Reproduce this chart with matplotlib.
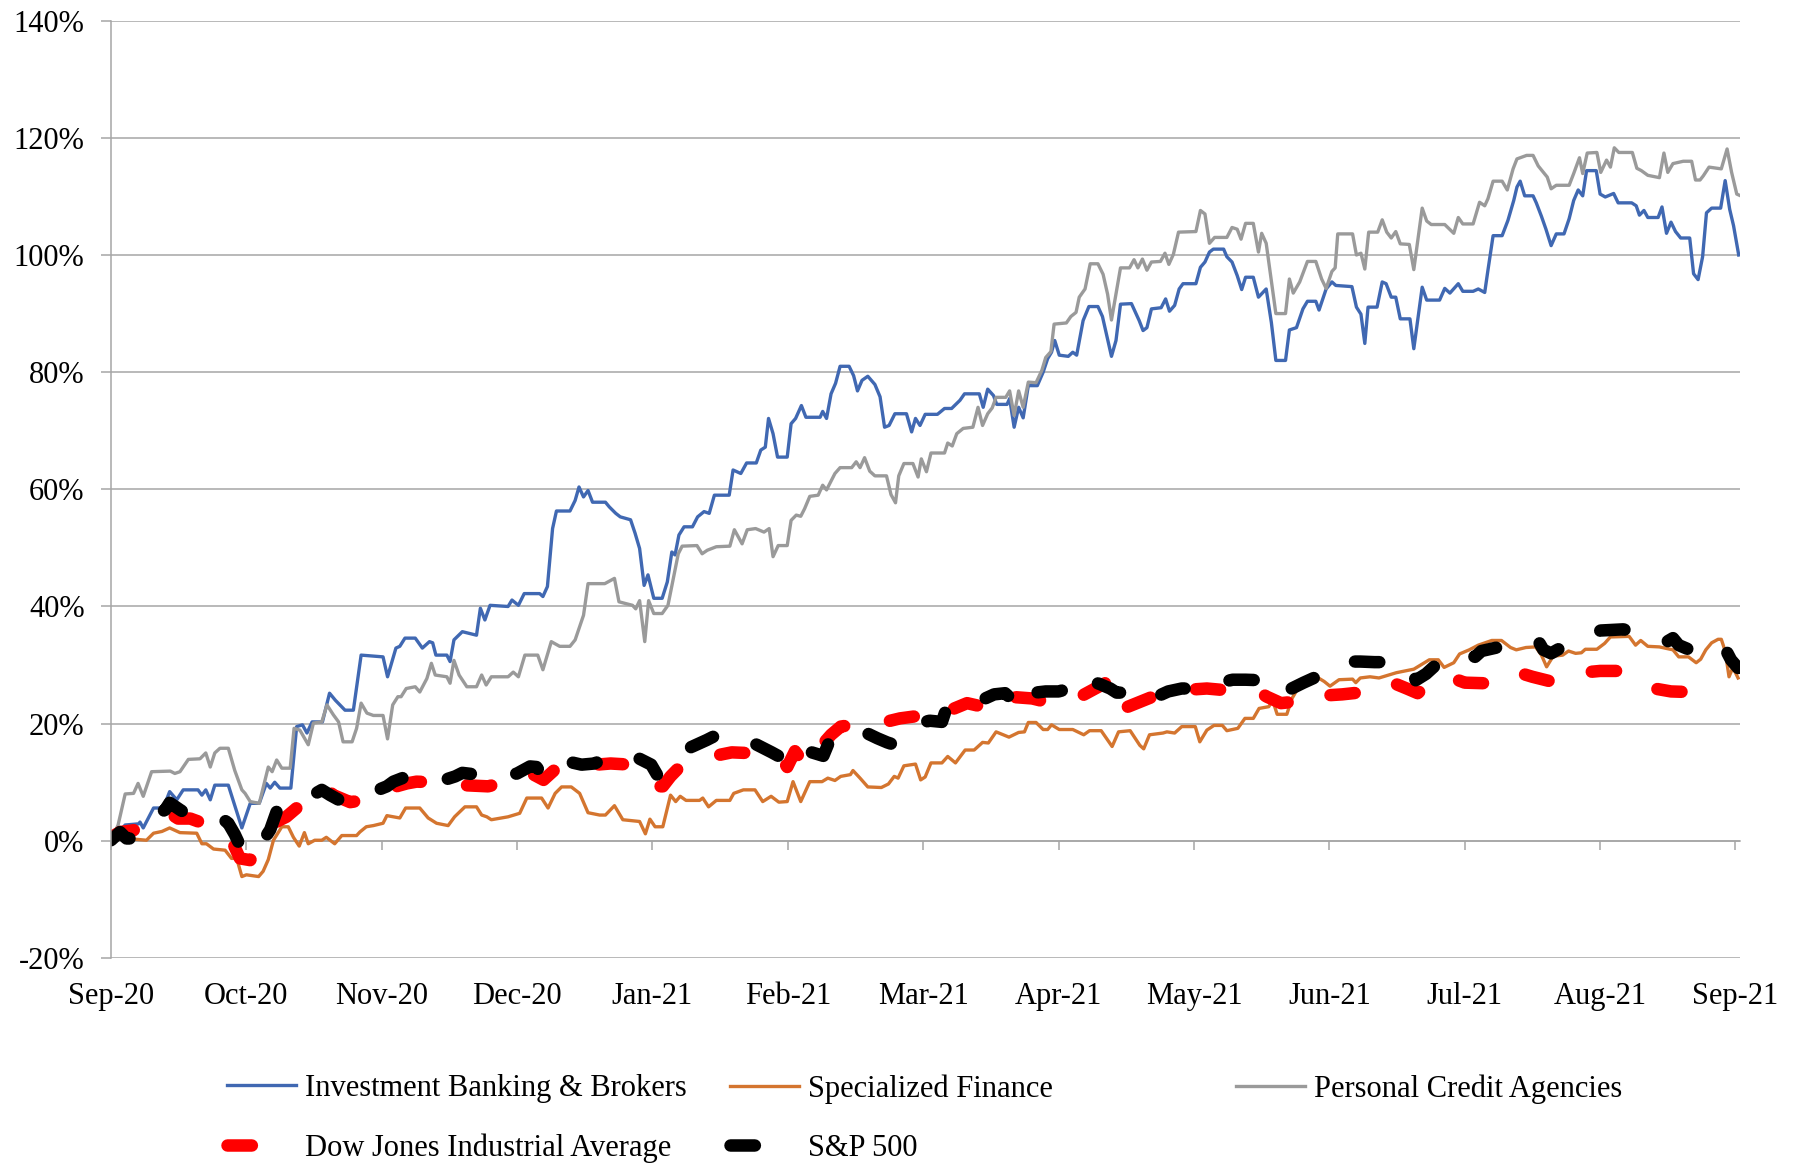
import numpy as np
import matplotlib
matplotlib.use('Agg')
from matplotlib import pyplot as plt

# trading-day index (0 = start of Sep-20), cumulative return in %
ib_day = [0, 2.2, 4.3, 4.5, 5.0, 6.6, 8.1, 9.1, 10.2, 11.2, 13.5, 14.1, 14.7, 15.4, 16.1, 18.2,
          20.3, 21.6, 23.0, 24.1, 24.7, 25.4, 26.2, 27.9, 28.8, 29.7, 30.4, 31.2, 32.8, 33.9,
          34.8, 36.3, 37.6, 38.8, 42.2, 42.9, 44.2, 44.8, 45.6, 47.2, 48.3, 49.4, 49.9, 50.4,
          52.1, 52.6, 53.2, 54.5, 56.7, 57.3, 58.0, 58.8, 61.6, 62.2, 63.2, 64.1, 66.5, 67.0,
          67.7, 68.5, 69.1, 71.2, 72.0, 72.6, 73.3, 74.0, 74.7, 76.7, 77.3, 78.3, 79.0, 80.6,
          81.3, 82.0, 82.7, 83.3, 84.2, 85.5, 86.3, 87.0, 87.5, 88.1, 88.9, 90.2, 91.0, 92.0,
          92.8, 93.6, 95.9, 96.5, 97.7, 98.6, 100.1, 100.8, 101.5, 102.0, 102.7, 103.4, 104.9,
          105.5, 106.2, 107.1, 107.8, 110.0, 110.4, 111.0, 111.7, 112.4, 113.1, 114.5, 115.2,
          115.8, 116.5, 117.4, 118.5, 119.3, 120.0, 120.7, 121.6, 123.4, 124.2, 124.8, 125.5,
          126.3, 128.2, 129.3, 130.4, 131.7, 132.4, 134.7, 135.3, 136.0, 136.9, 137.4, 139.0,
          139.4, 140.1, 140.8, 141.5, 142.3, 143.7, 144.6, 145.3, 145.9, 146.4, 147.1, 148.5,
          149.2, 149.8, 150.8, 151.7, 153.1, 153.8, 155.2, 155.9, 156.6, 158.3, 159.5, 160.1,
          160.7, 161.4, 162.9, 163.6, 164.2, 165.0, 165.7, 166.3, 168.3, 169.0, 169.7, 170.4,
          171.0, 172.6, 173.1, 173.9, 174.7, 175.4, 176.0, 177.2, 178.0, 179.2, 180.0, 180.7,
          182.2, 182.8, 183.9, 184.9, 185.6, 186.9, 187.4, 188.5, 189.4, 190.0, 192.5, 193.2,
          193.9, 194.5, 195.0, 196.4, 197.2, 197.8, 198.6, 199.3, 200.0, 201.5, 202.1, 203.4,
          204.1, 206.1, 206.9, 207.7, 209.0, 209.7, 211.3, 212.1, 213.1, 213.6, 214.4, 215.8,
          216.7, 217.6, 218.1, 218.6, 219.3, 220.6, 221.1, 221.9, 222.6, 223.4, 224.2, 225.4,
          226.2, 226.9, 227.6, 228.3, 228.9, 230.4, 231.0, 231.8, 233.1, 233.8, 235.9, 236.6,
          237.1, 237.8, 238.4, 240.0, 240.6, 241.3, 242.0, 242.7, 243.5, 244.9, 245.5, 246.2,
          246.9, 247.5, 248.3, 249.7, 250.4, 251.1, 251.7, 252.5]
ib_val = [0.0, 2.7, 2.9, 3.2, 2.2, 5.6, 5.6, 8.4, 7.0, 8.7, 8.7, 7.8, 8.7, 7.0, 9.5, 9.5,
          2.2, 6.4, 6.4, 9.8, 9.0, 10.0, 9.0, 9.0, 19.5, 19.8, 18.4, 20.3, 20.3, 25.2,
          24.0, 22.3, 22.3, 31.7, 31.4, 28.0, 32.9, 33.2, 34.6, 34.6, 32.9, 34.0, 33.8, 31.7,
          31.7, 30.6, 34.3, 35.7, 35.1, 39.7, 37.7, 40.2, 40.0, 41.1, 40.2, 42.2, 42.2, 41.7,
          43.4, 53.3, 56.3, 56.3, 58.1, 60.4, 58.7, 59.8, 57.8, 57.8, 57.0, 55.9, 55.3, 54.8,
          52.5, 49.9, 43.6, 45.4, 41.4, 41.4, 44.2, 49.3, 48.8, 52.2, 53.6, 53.6, 55.3, 56.2,
          55.9, 59.0, 59.0, 63.3, 62.7, 64.5, 64.5, 66.7, 67.2, 72.1, 69.5, 65.5, 65.5,
          71.2, 72.1, 74.3, 72.3, 72.3, 73.3, 72.1, 76.3, 78.1, 81.0, 81.0, 79.4,
          76.8, 78.6, 79.3, 77.9, 75.8, 70.6, 70.9, 72.9, 72.9, 69.8, 72.1, 70.9,
          72.8, 72.8, 73.8, 73.8, 75.2, 76.3, 76.3, 74.0, 77.1, 76.0, 74.5, 74.5,
          75.5, 70.6, 74.0, 72.2, 77.7, 77.7, 80.0, 82.3, 83.4, 85.4, 82.9, 82.7,
          83.4, 82.9, 88.8, 91.2, 91.2, 89.5, 82.7, 85.4, 91.6, 91.7, 88.8, 87.1,
          87.6, 90.8, 91.0, 92.5, 90.4, 91.4, 94.2, 95.1, 95.1, 97.9, 98.8, 100.5,
          101.0, 101.0, 99.7, 98.8, 96.5, 94.1, 96.2, 96.2, 92.8, 94.2, 88.5, 82.0,
          82.0, 87.2, 87.6, 90.8, 92.1, 92.1, 90.6, 94.2, 95.4, 94.8, 94.6, 91.1,
          89.9, 84.9, 91.1, 91.1, 95.4, 95.1, 92.8, 92.8, 89.1, 89.1, 84.0, 94.5,
          92.3, 92.3, 94.3, 93.5, 95.1, 93.8, 93.8, 94.2, 93.6, 97.4, 103.3, 103.3,
          105.9, 109.3, 111.6, 112.6, 110.1, 110.1, 108.9, 106.6, 104.4, 101.6, 103.6, 103.6,
          106.2, 109.3, 111.1, 110.1, 114.4, 114.4, 110.4, 109.9, 110.5, 108.9, 108.9, 108.4,
          106.8, 107.6, 106.4, 106.4, 108.2, 103.7, 105.6, 104.0, 102.9, 102.9, 96.8, 95.8,
          99.7, 107.2, 108.0, 108.0, 112.7, 107.8, 105.0, 100.0]

sf_day = [0, 0.6, 1.4, 2.4, 3.5, 5.5, 6.6, 7.9, 9.1, 10.7, 13.3, 14.1, 14.8, 15.9, 17.7, 18.7,
          19.5, 20.3, 21.0, 22.9, 23.6, 24.4, 25.2, 26.5, 27.5, 28.3, 29.2, 30.0, 30.6, 31.6,
          32.7, 33.4, 34.7, 35.8, 38.1, 38.6, 39.6, 40.7, 42.2, 42.8, 44.8, 45.7, 47.9, 49.2,
          50.5, 52.3, 53.3, 54.9, 56.7, 57.5, 58.3, 59.0, 61.6, 63.4, 64.5, 66.8, 67.8, 68.9,
          69.9, 71.4, 72.7, 74.0, 75.8, 76.7, 78.1, 79.4, 82.0, 82.9, 83.6, 84.4, 85.6, 86.8,
          87.6, 88.3, 89.2, 91.3, 91.8, 92.7, 93.9, 96.0, 96.6, 98.1, 99.9, 101.1, 102.4,
          103.6, 104.9, 105.8, 107.0, 108.4, 110.3, 111.2, 112.3, 113.2, 114.7, 115.1, 116.2,
          117.4, 119.5, 120.6, 121.5, 122.1, 123.0, 124.8, 125.6, 126.3, 127.2, 128.9, 129.8,
          131.0, 132.5, 133.9, 135.2, 136.1, 137.3, 139.3, 140.8, 141.7, 142.3, 143.5, 144.6,
          145.3, 145.9, 147.1, 149.2, 150.9, 151.8, 153.6, 155.3, 156.3, 158.1, 159.6, 160.2,
          161.1, 163.2, 163.8, 165.0, 166.1, 168.2, 168.9, 170.0, 171.1, 172.4, 173.1, 174.8,
          175.9, 177.2, 178.1, 179.6, 180.2, 180.9, 182.4, 183.2, 184.6, 185.5, 187.3, 188.2,
          189.1, 190.5, 192.6, 193.1, 193.8, 195.3, 196.7, 199.4, 202.1, 204.5, 205.9, 206.8,
          208.3, 209.2, 210.7, 212.1, 214.2, 215.7, 217.1, 218.0, 219.5, 221.0, 221.9, 222.7,
          223.7, 225.2, 226.1, 227.2, 228.1, 228.7, 230.5, 231.7, 232.6, 235.5, 236.5, 237.3,
          238.4, 240.2, 242.3, 243.2, 244.7, 245.9, 246.6, 247.4, 248.3, 249.3, 249.8, 250.4,
          251.0, 251.6, 252.4]
sf_val = [0.0, 0.6, 0.3, 0.6, 0.3, 0.1, 1.3, 1.6, 2.2, 1.4, 1.3, -0.5, -0.5, -1.4, -1.6, -3.0,
          -3.0, -6.1, -5.8, -6.1, -5.2, -3.2, 0.1, 2.4, 2.4, 0.6, -0.9, 1.4, -0.5, 0.1,
          0.1, 0.6, -0.5, 0.9, 0.9, 1.5, 2.4, 2.6, 3.0, 4.3, 3.9, 5.6, 5.6, 3.9,
          3.0, 2.6, 4.1, 5.8, 5.8, 4.4, 4.1, 3.6, 4.1, 4.7, 7.3, 7.3, 5.6, 8.1,
          9.2, 9.2, 8.1, 4.8, 4.4, 4.4, 6.0, 3.6, 3.3, 1.2, 3.7, 2.4, 2.4, 7.8,
          6.7, 7.6, 6.9, 6.9, 7.3, 5.8, 6.9, 6.9, 8.1, 8.7, 8.7, 6.7, 7.6,
          6.6, 6.7, 10.1, 6.7, 10.1, 10.1, 10.7, 10.3, 11.0, 11.3, 12.0, 10.7,
          9.2, 9.1, 9.7, 11.0, 10.7, 12.8, 13.1, 10.4, 10.9, 13.3, 13.3, 14.4,
          13.3, 15.5, 15.5, 16.8, 16.7, 18.6, 17.7, 18.5, 18.6, 20.2, 20.2, 19.0,
          19.0, 19.8, 19.0, 19.0, 18.1, 18.8, 18.8, 16.1, 18.6, 18.8, 16.3, 15.7,
          18.1, 18.4, 18.6, 18.4, 19.5, 19.5, 16.9, 18.9, 19.7, 19.7, 18.8, 19.2,
          20.9, 20.9, 22.6, 22.9, 24.0, 21.6, 21.6, 24.3, 26.9, 27.8, 27.8, 27.2,
          26.4, 27.5, 27.6, 27.0, 27.8, 28.0, 27.8, 28.7, 29.3, 30.9, 30.9, 29.6,
          30.4, 31.9, 32.6, 33.4, 34.2, 34.2, 33.0, 32.6, 33.0, 33.1, 31.7, 29.7,
          31.5, 31.7, 32.4, 32.0, 32.1, 32.7, 32.7, 33.7, 34.8, 34.9, 33.4, 34.2,
          33.2, 33.1, 32.6, 31.4, 31.4, 30.4, 31.0, 32.6, 33.8, 34.4, 34.4, 32.4,
          28.0, 29.6, 27.8]

pca_day = [0, 1.1, 2.2, 3.5, 4.2, 5.0, 6.3, 9.2, 9.9, 10.7, 12.0, 13.8, 14.7, 15.4, 16.1, 16.9,
           18.2, 19.2, 20.3, 20.8, 21.6, 23.0, 23.9, 24.4, 25.0, 25.7, 26.5, 27.8, 28.4, 29.3,
           30.6, 31.4, 32.7, 33.5, 34.5, 35.3, 36.0, 37.4, 38.1, 38.8, 39.7, 40.7, 42.2, 42.9,
           43.7, 44.5, 45.0, 45.8, 47.2, 47.9, 49.0, 49.7, 50.3, 52.1, 52.6, 53.2, 54.0, 55.2,
           56.7, 57.5, 58.2, 59.0, 61.6, 62.4, 63.2, 64.2, 66.2, 67.0, 68.3, 69.6, 71.2, 72.0,
           73.3, 74.0, 76.6, 78.1, 78.8, 80.9, 81.4, 82.0, 82.8, 83.4, 84.2, 85.5, 86.4, 87.3,
           88.0, 88.6, 90.9, 91.7, 92.5, 93.9, 96.0, 96.7, 97.9, 98.7, 100.0, 101.3, 102.1,
           102.7, 103.5, 104.9, 105.5, 106.3, 107.0, 107.6, 108.4, 109.7, 110.4, 111.0, 112.3,
           113.1, 114.9, 115.6, 116.2, 116.9, 117.7, 118.5, 120.3, 121.0, 121.7, 122.2, 123.0,
           124.4, 125.2, 125.7, 126.5, 127.2, 129.3, 129.8, 130.5, 131.2, 132.2, 133.7, 134.5,
           135.2, 136.0, 136.7, 137.3, 138.8, 139.4, 140.1, 140.8, 141.5, 142.3, 143.5, 144.4,
           145.0, 145.8, 146.3, 148.2, 148.9, 149.7, 150.2, 151.1, 151.9, 153.1, 153.9, 154.6,
           155.2, 155.9, 156.6, 158.0, 158.7, 159.3, 160.0, 160.7, 161.4, 162.8, 163.5, 164.1,
           164.8, 165.6, 168.3, 169.0, 169.7, 170.4, 171.2, 173.1, 173.9, 174.7, 175.3, 176.0,
           177.2, 178.0, 178.5, 179.2, 180.7, 182.2, 182.8, 183.4, 184.4, 185.6, 186.9, 187.8,
           188.5, 189.4, 189.9, 190.3, 192.6, 193.2, 193.9, 194.5, 195.1, 196.5, 197.2, 197.9,
           198.6, 199.3, 200.0, 201.4, 202.1, 203.4, 204.1, 204.8, 206.9, 208.3, 209.0, 209.7,
           211.3, 212.3, 213.1, 213.6, 214.4, 215.8, 216.6, 217.5, 218.1, 219.6, 220.6, 221.4,
           222.2, 222.8, 223.4, 224.2, 226.2, 226.9, 227.8, 228.3, 229.0, 230.5, 231.1, 232.0,
           232.6, 233.2, 233.9, 236.0, 236.7, 237.4, 238.4, 240.2, 240.9, 241.5, 242.3, 243.9,
           245.2, 245.8, 246.5, 247.0, 247.9, 249.8, 250.7, 251.4, 252.2, 252.8]
pca_val = [0.0, 2.7, 8.0, 8.1, 9.8, 7.6, 11.8, 11.9, 11.5, 11.8, 13.9, 14.0, 15.0, 12.6, 15.0, 15.8,
           15.8, 12.0, 8.7, 8.1, 6.7, 6.4, 10.4, 12.6, 11.8, 13.8, 12.4, 12.4, 19.2, 18.9,
           16.4, 20.1, 20.3, 23.2, 21.5, 20.3, 16.9, 16.9, 19.2, 23.5, 21.8, 21.4, 21.4, 17.4,
           23.2, 24.6, 24.6, 26.0, 26.3, 25.4, 27.7, 30.3, 28.3, 28.0, 26.9, 30.8, 28.3, 26.3,
           26.3, 28.3, 26.6, 28.0, 28.0, 28.8, 28.0, 31.7, 31.7, 29.2, 34.0, 33.2, 33.2, 34.3,
           38.5, 43.9, 43.9, 44.8, 40.8, 40.2, 39.6, 41.0, 34.0, 41.0, 38.8, 38.8, 40.2, 45.1,
           49.0, 50.3, 50.4, 49.0, 49.6, 50.2, 50.3, 53.1, 50.7, 53.1, 53.3, 52.7, 53.3,
           48.5, 50.4, 50.4, 54.7, 55.6, 55.4, 56.7, 58.8, 59.0, 60.7, 59.9, 62.7,
           63.7, 63.7, 64.7, 63.7, 65.4, 63.1, 62.3, 62.3, 59.1, 57.7, 62.3, 64.4,
           64.4, 62.1, 65.2, 63.0, 66.2, 66.2, 67.9, 67.4, 69.5, 70.4, 70.6, 74.0,
           70.9, 72.9, 73.9, 75.7, 75.7, 76.8, 72.6, 76.8, 74.0, 78.3, 78.2, 80.3,
           82.5, 83.5, 88.2, 88.4, 89.5, 90.2, 92.8, 94.2, 98.5, 98.5, 96.7, 93.3,
           88.9, 93.3, 97.8, 97.8, 99.2, 97.8, 99.3, 97.4, 98.8, 98.9, 100.3, 98.4,
           100.1, 103.9, 104.0, 107.6, 107.0, 102.0, 103.0, 103.0, 104.7, 104.4, 102.7, 105.4,
           105.4, 100.5, 103.7, 102.0, 90.0, 90.0, 95.9, 93.5, 95.4, 98.9, 98.9, 95.9,
           94.3, 97.2, 97.8, 103.6, 103.6, 100.0, 100.3, 97.6, 103.9, 103.9, 106.0, 103.9,
           102.9, 104.0, 101.9, 101.8, 97.5, 108.0, 105.8, 105.2, 105.2, 103.7, 106.4, 105.3,
           105.3, 109.0, 108.4, 109.6, 112.6, 112.6, 111.1, 114.7, 116.4, 117.0, 117.0, 115.2,
           114.1, 113.3, 111.3, 111.9, 111.9, 113.9, 116.6, 113.9, 117.4, 117.5, 114.1, 116.2,
           115.0, 118.3, 117.5, 117.5, 114.8, 114.4, 113.6, 113.2, 117.4, 114.1, 115.6, 116.0,
           116.0, 112.8, 112.8, 113.5, 115.0, 114.7, 118.1, 114.1, 110.4, 110.1]

dj_day = [0, 1.4, 3.5, 4.5, 6.5, 9.1, 10.4, 12.3, 13.8, 16.0, 18.5, 20.0, 21.6, 23.5, 25.2, 27.2,
          28.8, 31.0, 33.0, 34.5, 37.1, 39.5, 42.2, 43.3, 45.9, 47.4, 50.0, 52.8, 54.6, 58.5,
          61.0, 64.7, 67.1, 69.1, 72.0, 75.3, 77.5, 80.6, 82.5, 84.1, 85.6, 86.8, 88.3, 91.0,
          94.5, 96.3, 100.7, 102.5, 104.0, 104.9, 106.1, 107.9, 110.0, 111.7, 113.2, 116.7,
          119.0, 122.4, 125.1, 126.9, 129.5, 132.8, 135.2, 136.0, 137.8, 140.5, 142.9, 145.9,
          148.6, 151.0, 154.2, 155.4, 158.0, 161.6, 164.3, 167.3, 170.0, 172.0, 174.0, 177.8,
          179.3, 181.5, 184.0, 185.2, 186.4, 188.2, 191.0, 194.4, 195.8, 198.8, 201.0, 202.7,
          204.2, 205.3, 207.3, 210.0, 213.0, 214.5, 217.5, 220.5, 223.4, 224.9, 227.0, 228.1,
          231.0, 234.6, 236.1, 237.8, 239.4, 242.0, 244.7, 245.9, 247.7]
dj_val = [0.6, 1.5, 1.8, 2.4, 4.0, 4.7, 3.8, 3.8, 3.2, 2.5, 0.6, -3.0, -3.3, 0.0, 3.0, 4.1,
          5.6, 8.0, 9.3, 7.8, 6.6, 7.0, 8.1, 9.0, 9.8, 10.1, 10.0, 9.8, 9.5, 9.3,
          10.0, 11.8, 10.4, 12.4, 12.8, 13.0, 13.2, 13.0, 11.0, 9.3, 9.3, 11.0, 12.7, 14.0,
          14.7, 15.1, 14.9, 14.5, 14.1, 12.6, 15.3, 12.7, 16.0, 18.1, 19.5, 20.1,
          20.0, 20.9, 21.3, 20.1, 22.0, 23.5, 22.9, 22.3, 24.6, 24.5, 24.3, 23.5,
          23.5, 25.0, 26.9, 21.9, 23.0, 24.6, 25.2, 25.8, 26.0, 25.8, 25.7, 25.6,
          24.6, 23.5, 23.8, 24.3, 25.4, 24.8, 25.0, 25.4, 26.9, 27.0, 26.0, 25.2,
          26.6, 27.8, 28.1, 27.0, 26.9, 28.4, 29.0, 28.0, 27.2, 28.4, 29.0, 28.7,
          29.0, 29.0, 27.8, 26.6, 26.0, 25.5, 25.4, 23.4, 26.6]

sp_day = [0, 1.4, 2.4, 3.7, 4.5, 6.5, 8.4, 9.1, 10.7, 11.7, 13.3, 15.5, 17.0, 18.2, 19.2, 20.3,
          21.5, 23.0, 24.7, 25.7, 27.2, 28.5, 30.0, 32.7, 34.0, 35.5, 37.3, 39.0, 41.0, 42.8,
          43.8, 45.2, 46.0, 48.1, 50.0, 52.0, 53.4, 54.5, 56.8, 58.8, 61.0, 63.0, 65.0, 66.0,
          67.1, 68.6, 71.0, 73.0, 75.0, 77.6, 78.5, 79.7, 82.0, 83.8, 84.7, 86.4, 88.0, 90.0,
          92.4, 94.2, 96.5, 98.0, 100.0, 102.5, 104.0, 104.9, 105.8, 107.5, 109.6, 110.5,
          111.4, 113.1, 115.0, 117.0, 118.9, 120.4, 121.5, 122.7, 125.0, 127.0, 128.9, 129.5,
          131.3, 132.8, 135.0, 137.0, 138.7, 139.9, 141.0, 141.7, 142.6, 145.0, 147.0, 148.7,
          149.7, 150.9, 152.1, 153.3, 155.0, 156.0, 157.5, 159.0, 160.3, 162.0, 164.0, 166.1,
          168.9, 170.7, 171.6, 174.0, 176.0, 178.7, 179.9, 181.1, 182.0, 182.6, 185.0, 187.0,
          189.0, 190.8, 193.8, 196.0, 198.0, 199.4, 200.3, 201.8, 202.4, 204.0, 206.0, 208.0,
          208.9, 210.4, 211.6, 212.6, 215.0, 217.0, 219.2, 221.3, 222.2, 223.4, 225.0, 227.0,
          229.0, 231.1, 234.6, 236.5, 239.0, 240.9, 242.3, 243.2, 244.7, 246.5, 248.0, 249.3,
          250.4, 251.3, 252.4]
sp_val = [0.1, 1.5, 0.4, 0.4, 1.8, 4.0, 5.3, 6.5, 5.3, 4.6, 4.4, 4.4, 4.0, 3.0, 1.1, -1.5,
          -2.5, -1.0, 1.9, 5.0, 5.4, 5.6, 7.0, 8.7, 7.8, 6.9, 6.6, 7.0, 8.5, 9.3,
          10.1, 10.7, 11.1, 11.1, 11.0, 10.5, 11.0, 11.6, 11.3, 10.7, 11.0, 11.5, 12.7, 12.6,
          11.0, 13.4, 13.5, 13.0, 13.2, 14.5, 15.1, 14.8, 14.0, 13.0, 11.3, 14.2, 14.5, 16.0,
          17.2, 18.2, 18.2, 17.2, 16.5, 15.1, 14.2, 14.8, 16.9, 15.5, 14.8, 14.5,
          16.9, 18.3, 19.0, 18.5, 17.5, 16.8, 16.4, 18.6, 20.0, 20.5, 20.3, 22.3,
          22.9, 24.2, 24.0, 25.0, 25.2, 24.0, 25.2, 23.5, 25.2, 25.5, 25.5, 26.0,
          24.7, 26.3, 27.2, 26.8, 26.0, 25.3, 25.3, 24.6, 23.5, 24.5, 25.5, 26.0,
          26.0, 26.3, 26.9, 27.5, 27.5, 27.4, 26.9, 25.2, 24.9, 25.7, 27.0, 28.0,
          28.9, 30.6, 30.6, 30.5, 30.5, 30.9, 29.7, 29.2, 27.4, 28.5, 30.5, 31.9,
          32.4, 31.9, 31.4, 32.4, 33.0, 33.5, 34.0, 34.3, 32.6, 32.0, 33.0, 34.5,
          35.1, 35.9, 36.1, 35.5, 34.5, 33.7, 34.6, 33.4, 32.7, 32.5, 33.5, 33.7,
          32.8, 30.9, 29.5]

month_labels = ['Sep-20', 'Oct-20', 'Nov-20', 'Dec-20', 'Jan-21', 'Feb-21', 'Mar-21',
                'Apr-21', 'May-21', 'Jun-21', 'Jul-21', 'Aug-21', 'Sep-21']
month_pos = np.arange(len(month_labels)) * 21

plt.rcParams['font.family'] = ['Liberation Serif', 'DejaVu Serif']
grid_c = '#a6a6a6'

fig = plt.figure(figsize=(17.99, 11.67), dpi=100)
ax = fig.add_axes([0.0617, 0.1791, 0.9055, 0.8032])

ax.plot(ib_day, ib_val, color='#4068B2', lw=2.4, label='Investment Banking & Brokers')
ax.plot(sf_day, sf_val, color='#D4752F', lw=2.4, label='Specialized Finance')
ax.plot(pca_day, pca_val, color='#9A9A9A', lw=2.4, label='Personal Credit Agencies')
ax.plot(dj_day, dj_val, color='#FF0000', lw=9, dashes=[1.95, 3.7],
        dash_capstyle='round', solid_capstyle='round', label='Dow Jones Industrial Average')
ax.plot(sp_day, sp_val, color='black', lw=9, dashes=[1.95, 3.7],
        dash_capstyle='round', solid_capstyle='round', label='S&P 500')

ax.set_xlim(0, 252.7)
ax.set_ylim(-20, 140)
ax.set_yticks(np.arange(-20, 141, 20))
ax.set_yticklabels([f'{v}%' for v in range(-20, 141, 20)])
ax.yaxis.grid(True, color=grid_c, lw=1.1)
ax.set_axisbelow(True)
for s in ['top', 'right', 'bottom']:
    ax.spines[s].set_visible(False)
ax.spines['left'].set_color(grid_c)
ax.spines['left'].set_linewidth(1.1)
ax.tick_params(axis='y', direction='out', length=7, width=1.1, color=grid_c,
               pad=12, labelsize=22)
ax.set_xticks(month_pos)
ax.set_xticklabels(month_labels)
ax.tick_params(axis='x', length=0, pad=17, labelsize=22)

# category axis crosses at 0%
sec = ax.secondary_xaxis(20 / 160)
sec.set_xticks(month_pos)
sec.set_xticklabels([])
sec.tick_params(direction='out', length=6.5, width=1.1, color=grid_c)
sec.spines['bottom'].set_color(grid_c)
sec.spines['bottom'].set_linewidth(1.1)
sec.set_zorder(1)

h, l = ax.get_legend_handles_labels()
cols = [([h[0], h[3]], [l[0], l[3]], 0.1262),
        ([h[1], h[4]], [l[1], l[4]], 0.4058),
        ([h[2]], [l[2]], 0.6870)]
for hh, ll, x in cols:
    fig.legend(hh, ll, loc='upper left', bbox_to_anchor=(x, 0.0796), frameon=False,
               fontsize=22, borderpad=0, borderaxespad=0, handlelength=2.25,
               handletextpad=0.3, labelspacing=1.0)

fig.savefig('out.png', dpi=100)
